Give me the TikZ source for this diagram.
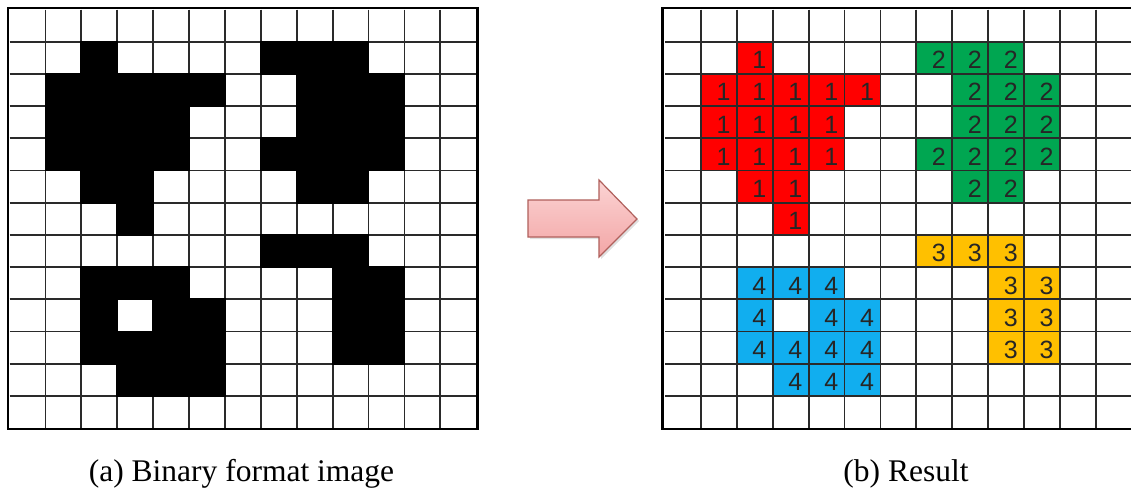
\documentclass[tikz,border=0pt]{standalone}
\usepackage{fontspec}
\setmainfont{Liberation Serif}
\newfontfamily\digitfont{Liberation Sans}
\definecolor{labred}{HTML}{FF0000}
\definecolor{labgreen}{HTML}{00A651}
\definecolor{labyellow}{HTML}{FFC000}
\definecolor{labblue}{HTML}{11AEEF}
\definecolor{gridcol}{HTML}{2A2A2A}
\definecolor{numcol}{HTML}{262626}
\definecolor{arrowline}{HTML}{B0605C}
\definecolor{arrowtop}{HTML}{FBD3D3}
\definecolor{arrowbot}{HTML}{F3A6A6}
\tikzset{
  gridline/.style={draw=gridcol,line width=1.8pt},
  gridborder/.style={draw=black,line width=2.6pt},
  cellnum/.style={font=\digitfont\fontsize{25}{25}\selectfont,text=numcol,inner sep=0pt,anchor=center},
  caption/.style={font=\fontsize{31.5}{31.5}\selectfont,anchor=base,inner sep=0pt},
  bigarrow/.style={top color=arrowtop,bottom color=arrowbot,draw=arrowline,line width=1.2pt,line join=miter}
}
\def\LX{9.5}
\def\RX{665}
\def\CW{35.9}
\def\TY{9.5}
\def\CH{32.2}
\newcommand\labcell[5]{% x0, col, row, colour, number
  \fill[#4] ({#1+#2*\CW},{\TY+#3*\CH}) rectangle +(\CW,\CH);
  \node[cellnum] (n#5-#2-#3) at ({#1+(#2+0.63)*\CW},{\TY+(#3+0.57)*\CH}) {#5};
}
\begin{document}
\begin{tikzpicture}[x=1pt,y=-1pt]
\fill[white] (0,0) rectangle (1131,496);
\useasboundingbox (0,0) rectangle (1131,496);
\clip (0,0) rectangle (1131,496);
% ---------- left grid (binary image) ----------
\foreach \i in {1,...,12}{
  \draw[gridline] ({\LX+\i*\CW},\TY) -- ({\LX+\i*\CW},{\TY+13*\CH});
  \draw[gridline] (\LX,{\TY+\i*\CH}) -- ({\LX+13*\CW},{\TY+\i*\CH});
}
\foreach \c/\r in {2/1,7/1,8/1,9/1,
  1/2,2/2,3/2,4/2,5/2,8/2,9/2,10/2,
  1/3,2/3,3/3,4/3,8/3,9/3,10/3,
  1/4,2/4,3/4,4/4,7/4,8/4,9/4,10/4,
  2/5,3/5,8/5,9/5,
  3/6,
  7/7,8/7,9/7,
  2/8,3/8,4/8,9/8,10/8,
  2/9,4/9,5/9,9/9,10/9,
  2/10,3/10,4/10,5/10,9/10,10/10,
  3/11,4/11,5/11}
  \fill[black] ({\LX+\c*\CW-0.9},{\TY+\r*\CH-0.9}) rectangle +({\CW+1.8},{\CH+1.8});
\draw[gridborder] ({\LX-1.5},{\TY-1.5}) rectangle ({\LX+13*\CW+1},{\TY+13*\CH+1});
% ---------- right grid (labelled result) ----------
\foreach \c/\r in {2/1,1/2,2/2,3/2,4/2,5/2,1/3,2/3,3/3,4/3,1/4,2/4,3/4,4/4,2/5,3/5,3/6}
  {\labcell{\RX}{\c}{\r}{labred}{1}}
\foreach \c/\r in {7/1,8/1,9/1,8/2,9/2,10/2,8/3,9/3,10/3,7/4,8/4,9/4,10/4,8/5,9/5}
  {\labcell{\RX}{\c}{\r}{labgreen}{2}}
\foreach \c/\r in {7/7,8/7,9/7,9/8,10/8,9/9,10/9,9/10,10/10}
  {\labcell{\RX}{\c}{\r}{labyellow}{3}}
\foreach \c/\r in {2/8,3/8,4/8,2/9,4/9,5/9,2/10,3/10,4/10,5/10,3/11,4/11,5/11}
  {\labcell{\RX}{\c}{\r}{labblue}{4}}
\foreach \i in {1,...,12}{
  \draw[gridline] ({\RX+\i*\CW},\TY) -- ({\RX+\i*\CW},{\TY+13*\CH});
  \draw[gridline] (\RX,{\TY+\i*\CH}) -- ({\RX+13*\CW},{\TY+\i*\CH});
}
\draw[gridborder] ({\RX+13*\CW+6},{\TY-1.5}) -- ({\RX-2.5},{\TY-1.5}) -- ({\RX-2.5},{\TY+13*\CH+1}) -- ({\RX+13*\CW+6},{\TY+13*\CH+1});
% ---------- arrow ----------
\fill[black,opacity=0.12] (530,202) -- (601,202) -- (601,182) -- (639,221) -- (601,259) -- (601,239) -- (530,239) -- cycle;
\draw[bigarrow] (528,200) -- (599,200) -- (599,180) -- (637,219) -- (599,257) -- (599,237) -- (528,237) -- cycle;
% ---------- captions ----------
\node[caption] (capa) at (241.5,481) {(a) Binary format image};
\node[caption] (capb) at (906,481) {(b) Result};
\end{tikzpicture}
\end{document}
